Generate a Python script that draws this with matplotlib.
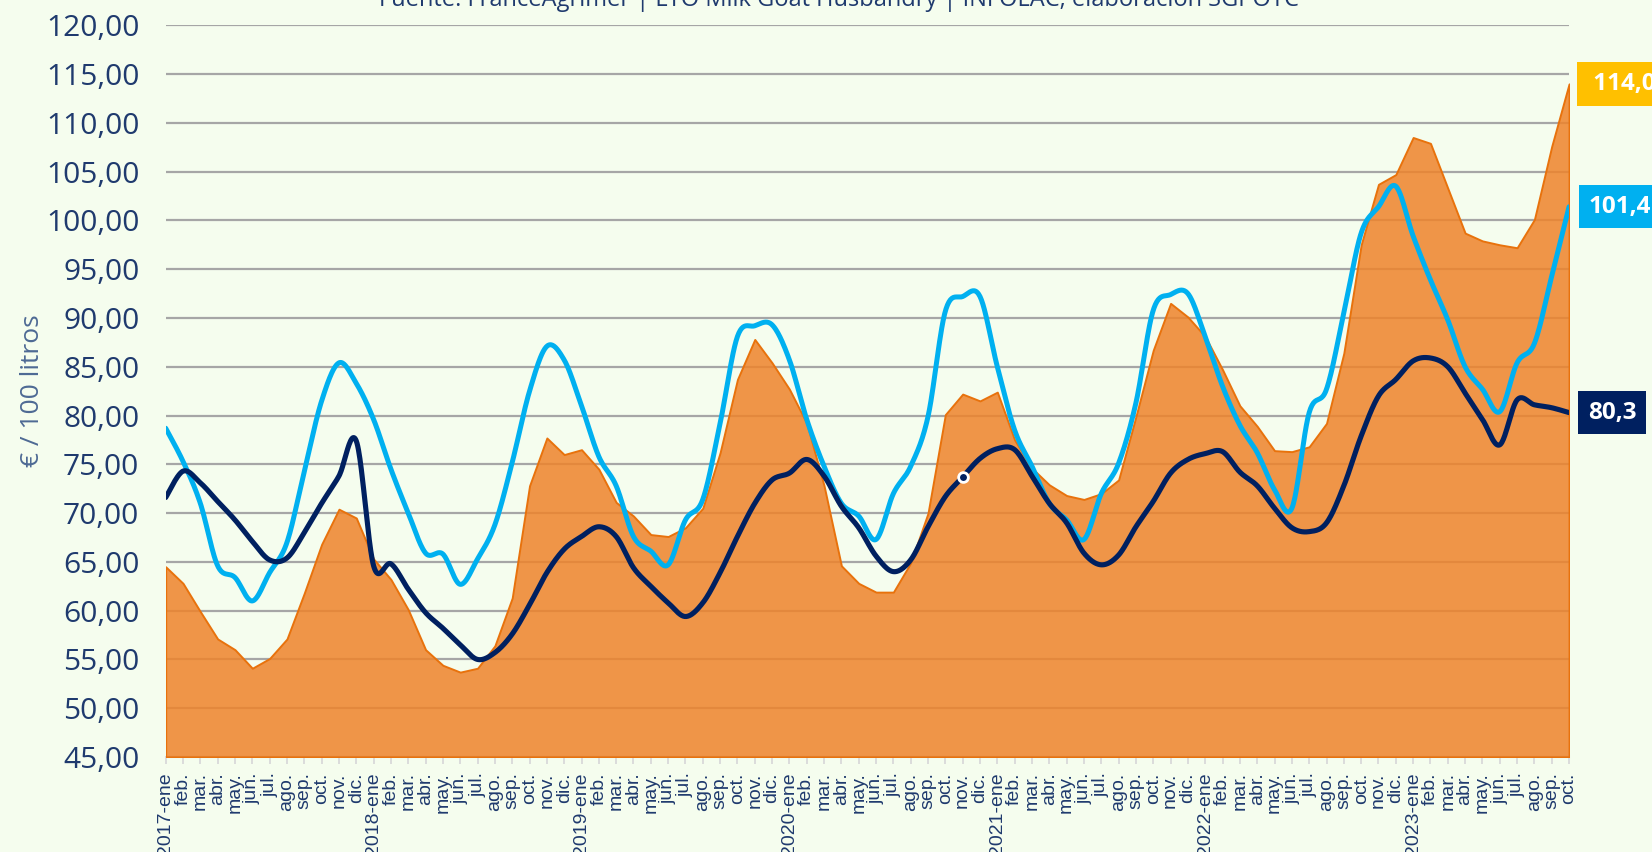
import numpy as np
import matplotlib
matplotlib.use("Agg")
import matplotlib.pyplot as plt

# ---------------- data ----------------
years = [2017, 2018, 2019, 2020, 2021, 2022, 2023]
month_abbr = ["ene", "feb.", "mar.", "abr.", "may.", "jun.", "jul.", "ago.",
              "sep.", "oct.", "nov.", "dic."]

francia = [64.5, 62.8, 59.9, 57.1, 56.0, 54.1, 55.1, 57.1, 61.8, 66.8, 70.4, 69.5,
           65.3, 63.2, 60.1, 56.0, 54.4, 53.7, 54.1, 56.4, 61.3, 72.8, 77.7, 76.0,
           76.5, 74.5, 71.1, 69.7, 67.8, 67.6, 68.5, 70.5, 76.2, 83.7, 87.8, 85.4,
           82.7, 79.2, 72.8, 64.6, 62.8, 61.9, 61.9, 64.9, 70.0, 80.1, 82.2, 81.5,
           82.4, 77.5, 74.6, 72.9, 71.8, 71.4, 72.0, 73.4, 79.9, 86.7, 91.5, 90.1,
           88.1, 84.7, 81.0, 78.9, 76.4, 76.3, 76.8, 79.2, 86.4, 97.5, 103.7, 104.7,
           108.5, 107.9, 103.3, 98.7, 97.9, 97.5, 97.2, 100.1, 107.6, 114.0]

paises_bajos = [78.7, 75.3, 71.0, 64.6, 63.4, 61.0, 63.9, 67.0, 74.3, 81.5, 85.4, 83.3,
                79.6, 74.5, 70.0, 65.9, 65.8, 62.7, 65.3, 68.8, 75.2, 82.5, 87.1, 85.7,
                81.0, 75.8, 72.8, 67.6, 66.1, 64.7, 69.3, 71.4, 79.2, 88.1, 89.2, 89.3,
                85.7, 79.6, 74.8, 71.0, 69.7, 67.3, 72.0, 74.8, 79.9, 90.7, 92.2, 92.2,
                85.0, 78.5, 74.8, 71.0, 69.3, 67.3, 72.0, 75.1, 81.3, 90.8, 92.4, 92.5,
                88.1, 83.0, 79.0, 76.2, 72.4, 70.5, 80.3, 82.7, 90.5, 98.7, 101.4, 103.5,
                98.4, 93.9, 89.8, 85.0, 82.7, 80.4, 85.4, 87.4, 94.3, 101.4]

espana = [71.6, 74.3, 73.1, 71.2, 69.3, 67.1, 65.2, 65.4, 68.0, 71.0, 73.8, 77.4,
          64.6, 64.8, 62.2, 59.8, 58.2, 56.5, 55.0, 55.7, 57.6, 60.6, 63.9, 66.3,
          67.6, 68.6, 67.6, 64.4, 62.5, 60.8, 59.4, 60.8, 63.9, 67.6, 71.0, 73.4,
          74.1, 75.5, 73.8, 70.7, 68.5, 65.6, 64.0, 65.2, 68.6, 71.7, 73.7, 75.6,
          76.6, 76.5, 73.8, 71.0, 69.0, 65.9, 64.7, 65.7, 68.6, 71.2, 74.1, 75.5,
          76.1, 76.3, 74.2, 72.8, 70.5, 68.5, 68.1, 69.0, 72.8, 77.9, 82.0, 83.7,
          85.6, 85.9, 85.0, 82.3, 79.6, 77.0, 81.6, 81.1, 80.8, 80.3]

end_labels = ["114,0", "101,4", "80,3"]
marked_month = 46  # 2020-nov, marker point on the navy line

title_text = "Fuente: FranceAgrimer | LTO Milk Goat Husbandry | INFOLAC, elaboración SGPOTC"
ylabel_text = "€ / 100 litros"

# ---------------- labels ----------------
tick_labels = []
for y in years:
    for m, ab in enumerate(month_abbr):
        if y == 2023 and m > 9:
            break
        tick_labels.append(f"{y}-ene" if m == 0 else ab)
x = np.arange(len(francia))

# ---------------- styling ----------------
BG = "#F5FDEE"
NAVY = "#002060"
CYAN = "#00B0F0"
ORANGE_FACE = (0.933, 0.512, 0.168, 0.85)
ORANGE_EDGE = "#E8720C"
YELLOW = "#FFC000"
TEXT_NAVY = "#1F3A6E"
GRID = "#A6A6A6"


def smooth(xs, ys, n=24):
    P = np.column_stack([xs, ys]).astype(float)
    Pe = np.vstack([P[0], P, P[-1]])
    out = []
    t = np.linspace(0, 1, n, endpoint=False)[:, None]
    for i in range(len(P) - 1):
        p0, p1, p2, p3 = Pe[i], Pe[i + 1], Pe[i + 2], Pe[i + 3]
        c1 = p1 + (p2 - p0) / 6.0
        c2 = p2 - (p3 - p1) / 6.0
        seg = ((1 - t) ** 3) * p1 + 3 * ((1 - t) ** 2) * t * c1 + 3 * (1 - t) * t ** 2 * c2 + t ** 3 * p2
        out.append(seg)
    out.append(P[-1:])
    S = np.vstack(out)
    return S[:, 0], S[:, 1]


fig = plt.figure(figsize=(16.52, 8.52), dpi=100)
fig.patch.set_facecolor(BG)
ax = fig.add_axes([0.1003, 0.1115, 0.8495, 0.8588])
ax.set_facecolor(BG)

ax.set_xlim(0, len(x) - 1)
ax.set_ylim(45, 120)

# grid
ax.set_axisbelow(True)
ax.yaxis.grid(True, color=GRID, linewidth=1.6, zorder=0)
ax.xaxis.grid(False)

# area
ax.fill_between(x, 45, francia, facecolor=ORANGE_FACE, edgecolor=ORANGE_EDGE,
                linewidth=1.4, zorder=1)

# lines
sx, sy = smooth(x, paises_bajos)
ax.plot(sx, sy, color=CYAN, linewidth=3.6, solid_capstyle="round", zorder=3)
sx, sy = smooth(x, espana)
ax.plot(sx, sy, color=NAVY, linewidth=3.7, solid_capstyle="round", zorder=4)
ax.plot([x[marked_month]], [espana[marked_month]], marker="o", markersize=7,
        markerfacecolor=NAVY, markeredgecolor="white", markeredgewidth=2, zorder=5)

# y axis
yticks = np.arange(45, 121, 5)
ax.set_yticks(yticks)
ax.set_yticklabels([f"{v:.2f}".replace(".", ",") for v in yticks],
                   fontfamily="Open Sans", fontsize=21.5, color=TEXT_NAVY)
ax.tick_params(axis="y", length=0, pad=19)
ax.set_ylabel(ylabel_text, fontfamily="Open Sans", fontsize=19, color="#4E6A94")
ax.yaxis.set_label_coords(-0.086, 0.5)

# x axis
ax.set_xticks(x)
ax.set_xticklabels(tick_labels, rotation=90, ha="center", va="top",
                   fontfamily="Liberation Sans", fontsize=14, color=TEXT_NAVY)
ax.tick_params(axis="x", length=5, width=1.3, color="#D9D9D9", pad=6)

for s in ["left", "right", "top"]:
    ax.spines[s].set_visible(False)
ax.spines["bottom"].set_color("#D9D9D9")
ax.spines["bottom"].set_linewidth(1.5)
ax.spines["bottom"].set_zorder(0.5)

# end labels
specs = [(francia[-1], end_labels[0], YELLOW, 18, " "),
         (paises_bajos[-1], end_labels[1], CYAN, 20, ""),
         (espana[-1], end_labels[2], NAVY, 19, "")]
for val, txt, col, off, prefix in specs:
    ax.annotate(prefix + txt, xy=(x[-1], val), xycoords="data",
                xytext=(off, 0), textcoords="offset pixels",
                ha="left", va="center", fontfamily="Open Sans", fontweight="bold",
                fontsize=17.5, color="white", annotation_clip=False,
                bbox=dict(boxstyle="square,pad=0.4", fc=col, ec="none"))

# title (partially outside the top edge)
fig.text(0.508, 1 - 6 / 852, title_text, ha="center", va="baseline",
         fontfamily="Open Sans", fontsize=17, color=TEXT_NAVY)

fig.savefig("out.png", dpi=100, facecolor=BG)
